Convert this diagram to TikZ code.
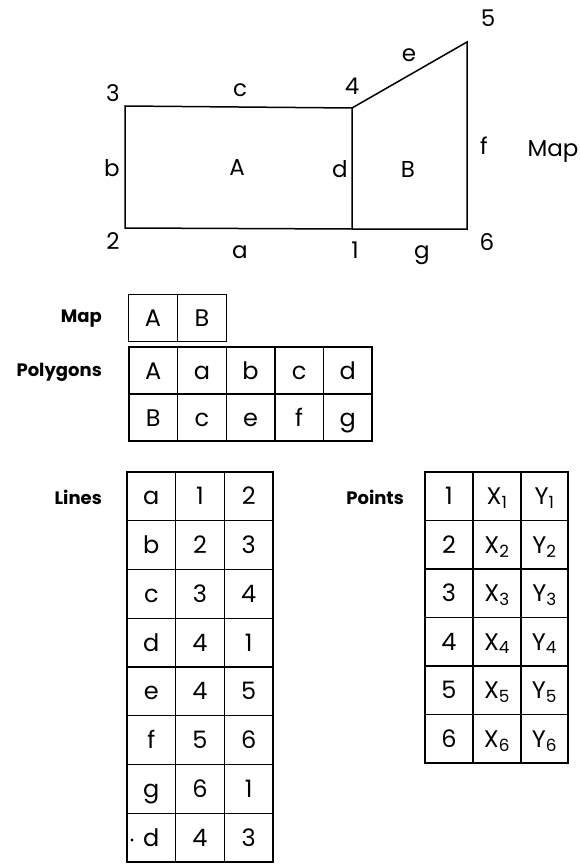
\documentclass[tikz,border=0pt]{standalone}
\usepackage{fontspec}
\setmainfont{Poppins}
\begin{document}
\begin{tikzpicture}[x=1pt,y=-1pt,
  edge/.style={line width=1.5pt,line join=miter},
  lbl/.style={font=\fontsize{23}{26}\selectfont,inner sep=0pt,text height=16pt,text depth=0pt},
  head/.style={font=\bfseries\fontsize{18}{22}\selectfont,inner sep=0pt,anchor=east,text height=13pt,text depth=0pt},
  cell/.style={draw,line width=1.4pt,inner sep=0pt,minimum width=#1,font=\fontsize{24}{28}\selectfont,text height=17pt,text depth=0pt},
  cell/.default=49pt]
\useasboundingbox (0,0) rectangle (579,864);
% map geometry
\coordinate (p3) at (125,106);
\coordinate (p4) at (352,108);
\coordinate (p5) at (467,42);
\coordinate (p6) at (467,229);
\coordinate (p1) at (352,229);
\coordinate (p2) at (125,228);
\draw[edge] (p4) -- (p3) -- (p2) -- (p1) -- (p6) -- (p5) -- (p4) -- (p1);
\node[lbl] (n5) at (488,19) {5};
\node[lbl] (le) at (409,54) {e};
\node[lbl] (n4) at (352,87) {4};
\node[lbl] (n3) at (113,94) {3};
\node[lbl] (lc) at (240,89) {c};
\node[lbl] (lb) at (112,168) {b};
\node[lbl] (lA) at (237,167) {A};
\node[lbl] (ld) at (340,169) {d};
\node[lbl] (lB) at (408,169) {B};
\node[lbl] (lf) at (484,146) {f};
\node[lbl] (lmap) at (553,148) {Map};
\node[lbl] (n2) at (113,241) {2};
\node[lbl] (la) at (240,250) {a};
\node[lbl] (n1) at (355,250) {1};
\node[lbl] (lg) at (422,250) {g};
\node[lbl] (n6) at (487,242) {6};
% Map table
\node[head] (hmap) at (102,316) {Map};
\foreach \t [count=\i from 0] in {A,B}
  \node[cell,minimum height=47pt] (m\i) at (153+49*\i,318) {\t};
% Polygons table
\node[head] (hpoly) at (102,370) {Polygons};
\foreach \t [count=\i from 0] in {A,a,b,c,d}
  \node[cell=48.6pt,minimum height=47pt] (pa\i) at (153.3+48.6*\i,370.5) {\t};
\foreach \t [count=\i from 0] in {B,c,e,f,g}
  \node[cell=48.6pt,minimum height=47pt] (pb\i) at (153.3+48.6*\i,417.5) {\t};
% Lines table
\node[head] (hlines) at (102,498) {Lines};
\foreach \a/\b/\c [count=\r from 0] in {a/1/2,b/2/3,c/3/4,d/4/1,e/4/5,f/5/6,g/6/1,d/4/3}{
  \node[cell=48.7pt,minimum height=48.75pt] (la\r) at (151.3,496.4+48.75*\r) {\a};
  \node[cell=48.7pt,minimum height=48.75pt] (lb\r) at (200,496.4+48.75*\r) {\b};
  \node[cell=48.7pt,minimum height=48.75pt] (lc\r) at (248.7,496.4+48.75*\r) {\c};
}
\fill (132,840) circle (1.6pt);
% Points table
\node[head] (hpts) at (404,498) {Points};
\foreach \r in {1,...,6}{
  \node[cell=48pt,minimum height=48.5pt] (qa\r) at (449,472+24.25+48.5*\r-48.5) {\r};
  \node[cell=48pt,minimum height=48.5pt] (qb\r) at (497,472+24.25+48.5*\r-48.5) {X\textsubscript{\r}};
  \node[cell=47pt,minimum height=48.5pt] (qc\r) at (544.5,472+24.25+48.5*\r-48.5) {Y\textsubscript{\r}};
}
\end{tikzpicture}
\end{document}
